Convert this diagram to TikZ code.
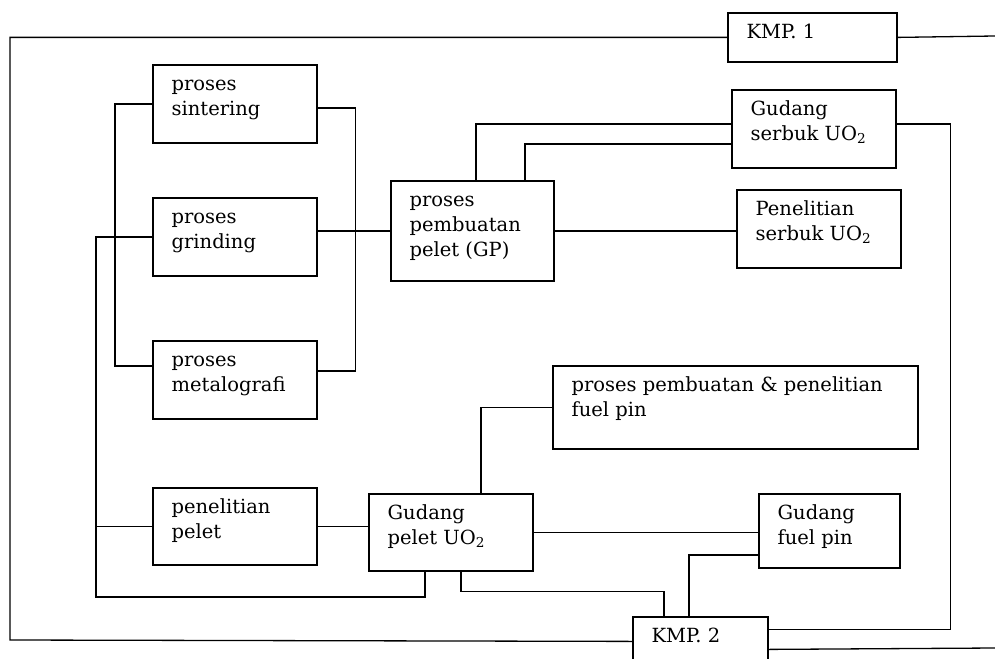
\documentclass[tikz,border=0pt]{standalone}
\usepackage{fontspec}
\setmainfont{DejaVu Serif}
\usetikzlibrary{calc}
\begin{document}
\begin{tikzpicture}[x=1pt,y=1pt,yscale=-1,line width=1.3pt,
  blok/.style={draw,line width=1.8pt,anchor=north west,inner sep=0pt},
  isi/.style={anchor=north west,align=left,inner sep=0pt,xshift=19pt,yshift=-8pt,font=\fontsize{19.5}{25}\selectfont}]
\path[use as bounding box,clip] (0,0) rectangle (995,658);

%kotak kanan atas
\node[blok,minimum width=169pt,minimum height=49pt,label={[isi]north west:{\strut KMP. 1}}] (kmp1) at (727,12) {};
\node[blok,minimum width=164pt,minimum height=78pt,label={[isi]north west:{\strut Gudang\\serbuk UO\textsubscript{2}}}] (gs) at (731,89) {};
\node[blok,minimum width=164pt,minimum height=78pt,label={[isi]north west:{\strut Penelitian\\serbuk UO\textsubscript{2}}}] (ps) at (736,189) {};
%kotak kiri
\node[blok,minimum width=164pt,minimum height=78pt,label={[isi]north west:{\strut proses\\sintering}}] (sint) at (152,64) {};
\node[blok,minimum width=164pt,minimum height=78pt,label={[isi]north west:{\strut proses\\grinding}}] (gr) at (152,197) {};
\node[blok,minimum width=164pt,minimum height=78pt,label={[isi]north west:{\strut proses\\metalografi}}] (meta) at (152,340) {};
\node[blok,minimum width=164pt,minimum height=77pt,label={[isi]north west:{\strut penelitian\\pelet}}] (pp) at (152,487) {};
%kotak tengah
\node[blok,minimum width=163pt,minimum height=100pt,label={[isi]north west:{\strut proses\\pembuatan\\pelet (GP)}}] (gp) at (390,180) {};
\node[blok,minimum width=164pt,minimum height=77pt,label={[isi]north west:{\strut Gudang\\pelet UO\textsubscript{2}}}] (gpl) at (368,493) {};
\node[blok,minimum width=365pt,minimum height=83pt,label={[isi]north west:{\strut proses pembuatan \& penelitian\\fuel pin}}] (fp) at (552,365) {};
\node[blok,minimum width=141pt,minimum height=74pt,label={[isi]north west:{\strut Gudang\\fuel pin}}] (gfp) at (758,493) {};
\node[blok,minimum width=135pt,minimum height=49pt,label={[isi]north west:{\strut KMP. 2}}] (kmp2) at (632,616) {};

%garis luar
\coordinate (kiri) at (10,640);
\coordinate (kanan1) at (995,36);
\coordinate (kanan2) at (995,648);
\draw (kmp1.west) -| (kiri) -- (kmp2.west);
\draw (kmp1.east) -- (kanan1);
\draw ($(kmp2.east)+(0,8)$) -- (kanan2);
\draw ($(gs.east)+(0,-5)$) -- ++(54,0) |- ($(kmp2.east)+(0,-12)$);

%gudang serbuk
\draw ($(kmp1.south)+(-8,0)$) -- ($(kmp1.south)+(-8,0)$ |- gs.north);
\draw ($(gs.west)+(0,-5)$) -| ($(gp.north)+(3.5,0)$);
\draw ($(gs.west)+(0,15)$) -| ($(gp.north)+(52.5,0)$);
\draw ($(gs.south)+(-35,0)$) -- ($(gs.south)+(-35,0)$ |- ps.north);
\draw ($(gs.south)+(40,0)$) -- ($(gs.south)+(40,0)$ |- ps.north);
\draw (gp.east) -- (gp.east -| ps.west);

%proses kiri
\draw (gp.west) -- (gp.west -| gr.east);
\draw (sint.west) -- ++(-37,0) |- ($(meta.west)+(0,-14)$);
\draw ($(sint.east)+(0,4)$) -- ++(38,0) |- ($(meta.east)+(0,-9)$);
\draw (gr.west) -- ++(-56,0) -- ++(0,360) -| ($(gpl.south)+(-26,0)$);
\draw (pp.west) -- ++(-56,0);
\draw (pp.east) -- (pp.east -| gpl.west);

%gudang pelet
\draw ($(gp.south)+(-26.5,0)$) -- ($(gp.south)+(-26.5,0)$ |- gpl.north);
\draw ($(gpl.north)+(30,0)$) |- (fp.west);
\draw (gpl.east) -- (gpl.east -| gfp.west);
\draw ($(gpl.south)+(10,0)$) -- ++(0,20) -| ($(kmp2.north)+(-36.5,0)$);

%fuel pin
\draw ($(fp.south)+(78.5,0)$) -- ($(fp.south)+(78.5,0)$ |- gfp.north);
\draw ($(gfp.west)+(0,24)$) -| ($(kmp2.north)+(-11.5,0)$);
\end{tikzpicture}
\end{document}
